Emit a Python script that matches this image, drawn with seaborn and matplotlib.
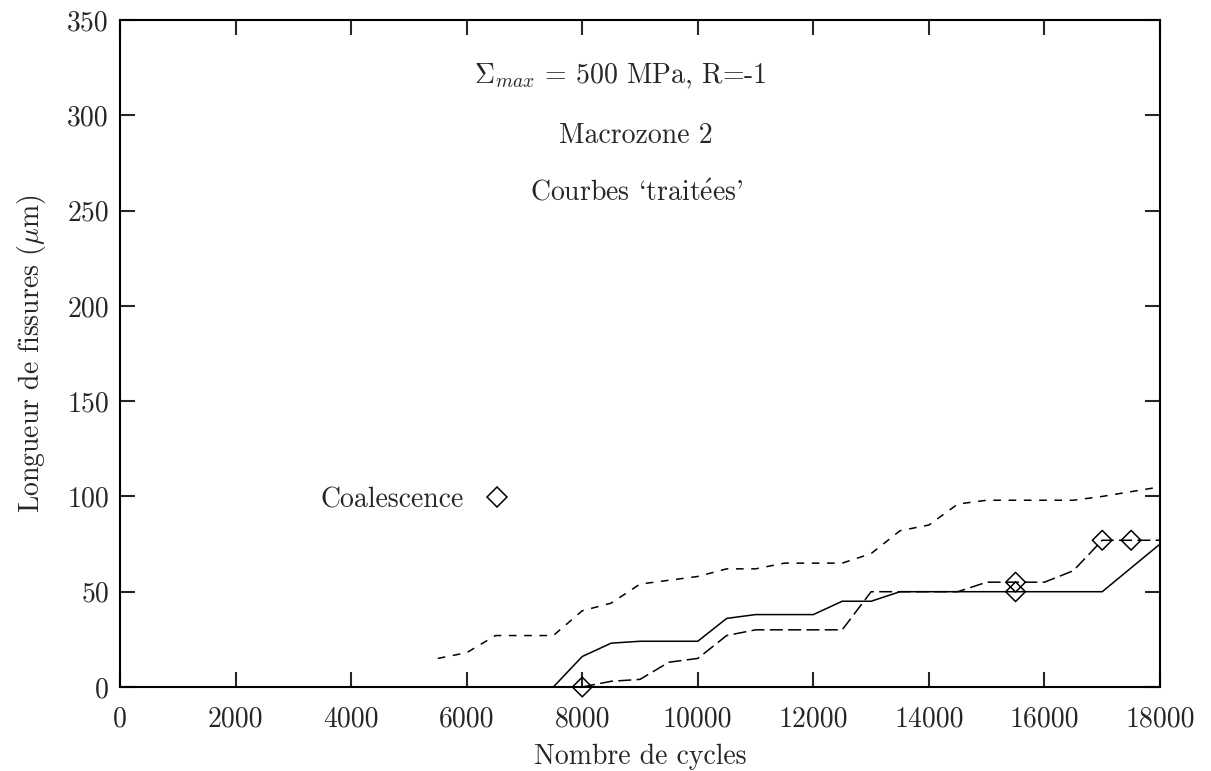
import pandas as pd
import seaborn as sns
import matplotlib.pyplot as plt
from matplotlib import lines

# Crack length curves (cycles, length in µm)
CYCLES_SOLID = [7500, 8000, 8500, 9000, 10000, 10500, 11000, 12000, 12500, 13000,
                13500, 14500, 15500, 17000, 18000]
LENGTH_SOLID = [0, 16, 23, 24, 24, 36, 38, 38, 45, 45, 50, 50, 50, 50, 75]

CYCLES_DASHED = [8000, 8500, 9000, 9500, 10000, 10500, 11000, 12500, 13000, 14500,
                 15000, 15500, 16000, 16500, 17000, 17500, 18000]
LENGTH_DASHED = [0, 3, 4, 13, 15, 27, 30, 30, 50, 50, 55, 55, 55, 61, 77, 77, 77]

CYCLES_DOTTED = [5500, 6000, 6500, 7500, 8000, 8500, 9000, 10000, 10500, 11000,
                 11500, 12500, 13000, 13500, 14000, 14500, 15000, 16500, 17000, 18000]
LENGTH_DOTTED = [15, 18, 27, 27, 40, 44, 54, 58, 62, 62, 65, 65, 70, 82, 85, 96,
                 98, 98, 100, 105]

# Coalescence events
COAL_CYCLES = [8000, 15500, 15500, 17000, 17500]
COAL_LENGTH = [0, 55, 50, 77, 77]

X_TICKS = list(range(0, 18001, 2000))
Y_TICKS = list(range(0, 351, 50))

FS = 20

sns.set_theme(style="white")
plt.rcParams["font.family"] = ["cmr10", "DejaVu Serif"]
plt.rcParams["mathtext.fontset"] = "cm"
plt.rcParams["axes.formatter.use_mathtext"] = True
plt.rcParams["axes.unicode_minus"] = False

curves_df = pd.concat(
    [
        pd.DataFrame({"cycles": CYCLES_SOLID, "length": LENGTH_SOLID, "curve": "a"}),
        pd.DataFrame({"cycles": CYCLES_DASHED, "length": LENGTH_DASHED, "curve": "b"}),
        pd.DataFrame({"cycles": CYCLES_DOTTED, "length": LENGTH_DOTTED, "curve": "c"}),
    ],
    ignore_index=True,
)
coal_df = pd.DataFrame({"cycles": COAL_CYCLES, "length": COAL_LENGTH})

fig = plt.figure(figsize=(12.11, 7.71), dpi=100)
ax = fig.add_axes([120 / 1211, 1 - 687 / 771, 1040 / 1211, 667 / 771])

sns.lineplot(
    ax=ax,
    data=curves_df,
    x="cycles",
    y="length",
    hue="curve",
    style="curve",
    palette=["black", "black", "black"],
    dashes={"a": "", "b": (8.5, 3.5), "c": (5, 5)},
    linewidth=1.1,
    legend=False,
    sort=False,
)

sns.scatterplot(
    ax=ax,
    data=coal_df,
    x="cycles",
    y="length",
    marker="D",
    s=100,
    facecolor="none",
    edgecolor="black",
    linewidth=1.1,
    legend=False,
    zorder=3,
    clip_on=False,
)

ax.set_xlim(0, 18000)
ax.set_ylim(0, 350)
ax.set_xticks(X_TICKS)
ax.set_yticks(Y_TICKS)
ax.set_xticklabels([str(t) for t in X_TICKS])
ax.set_yticklabels([str(t) for t in Y_TICKS])
ax.tick_params(direction="in", length=11, width=1.5, labelsize=FS,
               top=True, right=True, bottom=True, left=True)
ax.tick_params(axis="x", pad=14)
ax.tick_params(axis="y", pad=8)
for side in ["left", "right", "top", "bottom"]:
    ax.spines[side].set_visible(True)
    ax.spines[side].set_linewidth(1.5)
    ax.spines[side].set_color("black")

ax.set_xlabel("Nombre de cycles", fontsize=FS, labelpad=8)
ax.set_ylabel(r"Longueur de fissures ($\mu$m)", fontsize=FS, labelpad=14)

# Annotation labels
ax.text(0.481, 0.916, r"$\Sigma_{max}$ = 500 MPa, R=-1", transform=ax.transAxes,
        ha="center", va="center", fontsize=FS)
ax.text(0.496, 0.827, "Macrozone 2", transform=ax.transAxes,
        ha="center", va="center", fontsize=FS)
ax.text(0.497, 0.741, r"Courbes `trait$\mathrm{\acute{e}}$es'", transform=ax.transAxes,
        ha="center", va="center", fontsize=FS)

# Key
handle = lines.Line2D([0], [0], marker="D", markersize=10, markerfacecolor="none",
                      markeredgecolor="black", markeredgewidth=1.1, linestyle="none")
legend = ax.legend(
    handles=[handle],
    labels=["Coalescence"],
    loc="center right",
    bbox_to_anchor=(0.3755, 0.2805),
    markerfirst=False,
    frameon=False,
    fontsize=FS,
    handlelength=1.0,
    handletextpad=0.7,
    borderpad=0,
    borderaxespad=0,
)

plt.savefig("out.png", dpi=100)
